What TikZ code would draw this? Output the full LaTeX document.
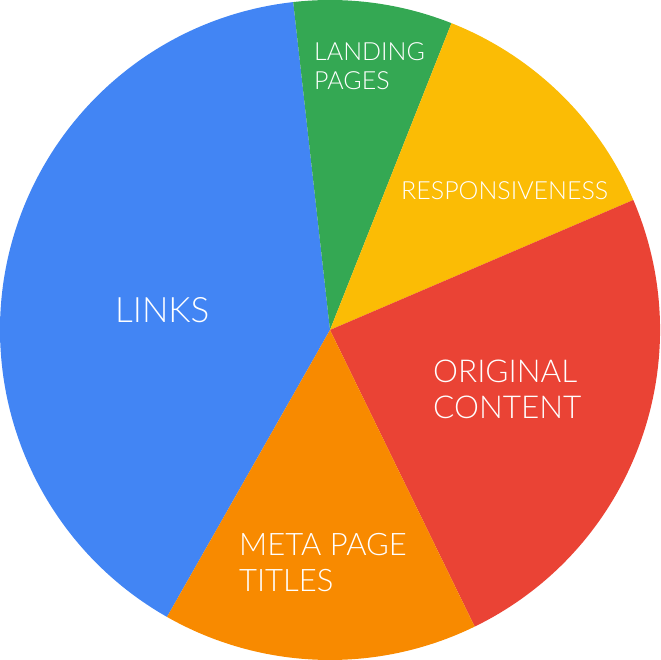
\documentclass[tikz,border=0pt]{standalone}
\usepackage{fontspec}
\setmainfont{Lato}[UprightFont=* Light]
\usepackage{tikz}

\definecolor{linksblue}{HTML}{4285F4}
\definecolor{landinggreen}{HTML}{34A853}
\definecolor{respyellow}{HTML}{FBBC05}
\definecolor{origred}{HTML}{EA4335}
\definecolor{metaorange}{HTML}{F88A00}

\tikzset{
	label text/.style={text=white, inner sep=0pt, align=left, anchor=base west},
}

\begin{document}
\begin{tikzpicture}[x=1pt, y=1pt]
	\useasboundingbox (0,0) rectangle (660,660);
	\coordinate (c) at (330,330);
	
	\def\R{330}
	
	% slices
	\fill[linksblue] (c) -- ++(96.4:\R) arc (96.4:240.4:\R) -- cycle;
	\fill[landinggreen] (c) -- ++(68.4:\R) arc (68.4:96.4:\R) -- cycle;
	\fill[respyellow] (c) -- ++(23.2:\R) arc (23.2:68.4:\R) -- cycle;
	\fill[origred] (c) -- ++(-64:\R) arc (-64:23.2:\R) -- cycle;
	\fill[metaorange] (c) -- ++(240.4:\R) arc (240.4:296:\R) -- cycle;
	
	% labels (base = last line)
	\node[label text, font=\fontsize{35}{40}\selectfont] (links) at (115,337) {LINKS};
	\node[label text, font=\fontsize{25}{29}\selectfont] (landing) at (314,570) {LANDING\\PAGES};
	\node[label text, font=\fontsize{25}{29}\selectfont] (resp) at (401,460) {RESPONSIVENESS};
	\node[label text, font=\fontsize{31.5}{36}\selectfont] (original) at (433,241) {ORIGINAL\\CONTENT};
	\node[label text, font=\fontsize{31}{36}\selectfont] (meta) at (239,68) {META PAGE\\TITLES};
\end{tikzpicture}
\end{document}
